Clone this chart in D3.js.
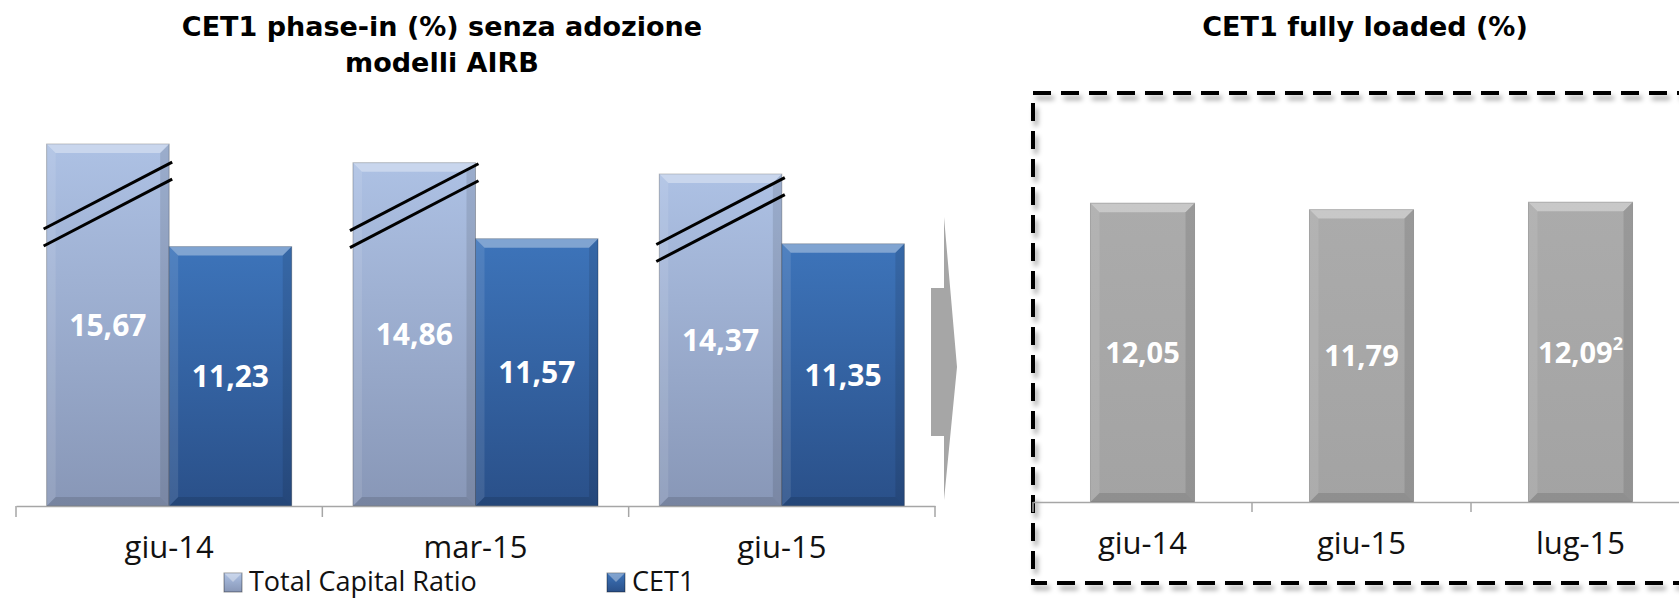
<!DOCTYPE html>
<html>
<head>
<meta charset="utf-8">
<script src="https://cdn.jsdelivr.net/npm/d3@7"></script>
<style>
  body { margin: 0; background: #fff; }
  text { font-family: "Open Sans", sans-serif; }
  .title { font-family: "DejaVu Sans", sans-serif; font-weight: bold; font-size: 27px; }
</style>
</head>
<body>
<script>
var width = 1679;
var height = 600;

// left chart data
var leftCategories = ['giu-14', 'mar-15', 'giu-15'];
var seriesNames = ['Total Capital Ratio', 'CET1'];
var tcrValues = [15.67, 14.86, 14.37];
var cet1Values = [11.23, 11.57, 11.35];
var breakValues = [13.07, 13.0, 12.4];   // where the "//" break marks cross the TCR bars

// right chart data
var rightCategories = ['giu-14', 'giu-15', 'lug-15'];
var fullyLoadedValues = [12.05, 11.79, 12.09];
var fullyLoadedNotes = ['', '', '2'];

var fmt = function(v) { return d3.format('.2f')(v).replace('.', ','); };

var svg = d3.select('body')
    .append('svg')
    .attr('width', width)
    .attr('height', height);

var defs = svg.append('defs');

function vGrad(id, top, bottom) {
    var g = defs.append('linearGradient')
        .attr('id', id)
        .attr('x1', 0).attr('y1', 0).attr('x2', 0).attr('y2', 1);
    g.append('stop').attr('offset', '0%').attr('stop-color', top);
    g.append('stop').attr('offset', '100%').attr('stop-color', bottom);
}
vGrad('tcrGrad', '#adc1e4', '#8897b7');
vGrad('cetGrad', '#3d74ba', '#2a5089');
vGrad('grayGrad', '#ababab', '#a3a3a3');

var shadow = defs.append('filter').attr('id', 'boxShadow')
    .attr('x', '-5%').attr('y', '-5%').attr('width', '115%').attr('height', '115%');
shadow.append('feDropShadow')
    .attr('dx', 3).attr('dy', 5).attr('stdDeviation', 2.5)
    .attr('flood-color', '#000').attr('flood-opacity', 0.35);

// bevelled bar like the office chart style
function bevelBar(g, x, y, w, h, fill) {
    var b = 9;
    g.append('rect').attr('x', x).attr('y', y).attr('width', w).attr('height', h)
        .attr('fill', fill).attr('stroke', 'rgba(0,0,0,0.25)').attr('stroke-width', 1);
    g.append('polygon')
        .attr('points', [[x, y], [x + w, y], [x + w - b, y + b], [x + b, y + b]].join(' '))
        .attr('fill', '#fff').attr('opacity', 0.35);
    g.append('polygon')
        .attr('points', [[x, y], [x + b, y + b], [x + b, y + h - b], [x, y + h]].join(' '))
        .attr('fill', '#fff').attr('opacity', 0.1);
    g.append('polygon')
        .attr('points', [[x + w, y], [x + w - b, y + b], [x + w - b, y + h - b], [x + w, y + h]].join(' '))
        .attr('fill', '#000').attr('opacity', 0.1);
    g.append('polygon')
        .attr('points', [[x, y + h], [x + b, y + h - b], [x + w - b, y + h - b], [x + w, y + h]].join(' '))
        .attr('fill', '#000').attr('opacity', 0.12);
}

/* ---------- left chart ---------- */
var leftBase = 506;

var x0 = d3.scaleBand()
    .domain(leftCategories)
    .range([16, 935])
    .paddingInner(0.2)
    .paddingOuter(0.1);

var x1 = d3.scaleBand()
    .domain(seriesNames)
    .range([0, x0.bandwidth()]);

var yLeft = d3.scaleLinear()
    .domain([0, 20])
    .range([leftBase, leftBase - 20 * 23.1]);

var leftData = leftCategories.map(function(c, i) {
    return { cat: c, values: [tcrValues[i], cet1Values[i]], brk: breakValues[i] };
});

var groups = svg.append('g').selectAll('g')
    .data(leftData)
    .enter()
    .append('g');

groups.each(function(d) {
    var g = d3.select(this);
    seriesNames.forEach(function(s, j) {
        var v = d.values[j];
        var bx = x0(d.cat) + x1(s);
        bevelBar(g, bx, yLeft(v), x1.bandwidth(), leftBase - yLeft(v), j === 0 ? 'url(#tcrGrad)' : 'url(#cetGrad)');
    });
    // break marks
    var bx = x0(d.cat) + x1(seriesNames[0]);
    var bw = x1.bandwidth();
    var cy = yLeft(d.brk);
    var slope = 0.52;
    [-8.5, 8.5].forEach(function(off) {
        g.append('line')
            .attr('x1', bx - 3).attr('y1', cy + off + slope * (bw / 2 + 3))
            .attr('x2', bx + bw + 3).attr('y2', cy + off - slope * (bw / 2 + 3))
            .attr('stroke', '#000').attr('stroke-width', 3);
    });
    // value labels
    seriesNames.forEach(function(s, j) {
        var v = d.values[j];
        g.append('text')
            .attr('x', x0(d.cat) + x1(s) + x1.bandwidth() / 2)
            .attr('y', (yLeft(v) + leftBase) / 2)
            .attr('dy', '0.36em')
            .attr('text-anchor', 'middle')
            .attr('fill', '#fff')
            .attr('font-weight', 'bold')
            .attr('font-size', '30px')
            .text(fmt(v));
    });
});

var xAxisLeft = d3.axisBottom(x0).tickSize(0).tickPadding(30);
var axL = svg.append('g')
    .attr('transform', 'translate(0,' + leftBase + ')')
    .call(xAxisLeft);
axL.select('.domain').attr('stroke', '#a6a6a6').attr('stroke-width', 1.5);
axL.selectAll('text').attr('font-size', '31px').attr('fill', '#111');

var leftBounds = leftCategories.map(function(c) { return x0(c) - x0.step() * 0.1; });
leftBounds.push(x0.range()[1]);
svg.append('g').selectAll('line')
    .data(leftBounds)
    .enter()
    .append('line')
    .attr('x1', function(d) { return d; }).attr('x2', function(d) { return d; })
    .attr('y1', leftBase).attr('y2', leftBase + 11)
    .attr('stroke', '#a6a6a6').attr('stroke-width', 1.5);

// title
svg.append('text')
    .attr('class', 'title')
    .attr('x', 442).attr('y', 36)
    .attr('text-anchor', 'middle')
    .text('CET1 phase-in (%) senza adozione');
svg.append('text')
    .attr('class', 'title')
    .attr('x', 442).attr('y', 72)
    .attr('text-anchor', 'middle')
    .text('modelli AIRB');

// legend
var legendX = [224, 607];
var legend = svg.append('g').selectAll('g')
    .data(seriesNames)
    .enter()
    .append('g')
    .attr('transform', function(d, i) { return 'translate(' + legendX[i] + ',573)'; });
legend.append('rect')
    .attr('width', 18).attr('height', 19)
    .attr('fill', function(d, i) { return i === 0 ? 'url(#tcrGrad)' : 'url(#cetGrad)'; })
    .attr('stroke', 'rgba(0,0,0,0.4)');
legend.append('polygon')
    .attr('points', '0,0 18,0 9,9')
    .attr('fill', '#fff').attr('opacity', 0.35);
legend.append('text')
    .attr('x', 25).attr('y', 18)
    .attr('font-size', '27px').attr('fill', '#111')
    .text(function(d) { return d; });

/* ---------- arrow between charts ---------- */
svg.append('polygon')
    .attr('points', '931,288 944,288 944,217 957,367 944,500 944,436 931,436')
    .attr('fill', '#a6a6a6');

/* ---------- right chart ---------- */
var rightBase = 502;

var xRight = d3.scaleBand()
    .domain(rightCategories)
    .range([1033, 1690])
    .paddingInner(0.525)
    .paddingOuter(0.2625);

var yRight = d3.scaleLinear()
    .domain([0, 14])
    .range([rightBase, rightBase - 14 * 24.8]);

// dashed frame
svg.append('rect')
    .attr('x', 1033).attr('y', 93)
    .attr('width', 700).attr('height', 490)
    .attr('fill', 'none')
    .attr('stroke', '#000').attr('stroke-width', 4)
    .attr('stroke-dasharray', '18,10')
    .attr('filter', 'url(#boxShadow)');

var rg = svg.append('g');
rightCategories.forEach(function(c, i) {
    var v = fullyLoadedValues[i];
    bevelBar(rg, xRight(c), yRight(v), xRight.bandwidth(), rightBase - yRight(v), 'url(#grayGrad)');
    var t = rg.append('text')
        .attr('x', xRight(c) + xRight.bandwidth() / 2)
        .attr('y', (yRight(v) + rightBase) / 2)
        .attr('dy', '0.36em')
        .attr('text-anchor', 'middle')
        .attr('fill', '#fff')
        .attr('font-weight', 'bold')
        .attr('font-size', '29px');
    t.append('tspan').text(fmt(v));
    if (fullyLoadedNotes[i]) {
        t.append('tspan')
            .attr('font-size', '18px')
            .attr('dy', '-0.7em')
            .text(fullyLoadedNotes[i]);
    }
});

var xAxisRight = d3.axisBottom(xRight).tickSize(0).tickPadding(30);
var axR = svg.append('g')
    .attr('transform', 'translate(0,' + rightBase + ')')
    .call(xAxisRight);
axR.select('.domain').attr('stroke', '#a6a6a6').attr('stroke-width', 1.5);
axR.selectAll('text').attr('font-size', '31px').attr('fill', '#111');

var rightBounds = rightCategories.map(function(c) { return xRight(c) - xRight.step() * xRight.paddingInner() / 2; });
svg.append('g').selectAll('line')
    .data(rightBounds)
    .enter()
    .append('line')
    .attr('x1', function(d) { return d; }).attr('x2', function(d) { return d; })
    .attr('y1', rightBase).attr('y2', rightBase + 10)
    .attr('stroke', '#a6a6a6').attr('stroke-width', 1.5);

svg.append('text')
    .attr('class', 'title')
    .attr('x', 1365).attr('y', 36)
    .attr('text-anchor', 'middle')
    .text('CET1 fully loaded (%)');
</script>
</body>
</html>
